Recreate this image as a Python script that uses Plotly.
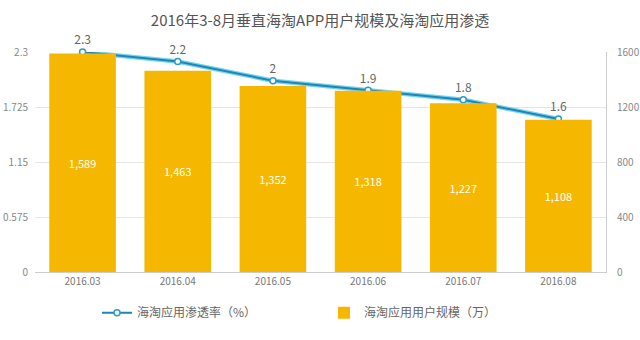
import plotly.graph_objects as go

months = ["2016.03", "2016.04", "2016.05", "2016.06", "2016.07", "2016.08"]
users = [1589, 1463, 1352, 1318, 1227, 1108]
rate = [2.3, 2.2, 2.0, 1.9, 1.8, 1.6]
rate_labels = ["2.3", "2.2", "2", "1.9", "1.8", "1.6"]
left_ticks = [0, 0.575, 1.15, 1.725, 2.3]
right_ticks = [0, 400, 800, 1200, 1600]

font_family = "Noto Sans CJK SC, Roboto, sans-serif"

fig = go.Figure()
fig.add_trace(go.Bar(
    x=months, y=users, name="海淘应用用户规模（万）",
    text=[f"{v:,}" for v in users], textposition="inside", insidetextanchor="middle",
    textfont=dict(size=11, color="white"),
    marker=dict(color="#F6B700", line=dict(width=0)),
    yaxis="y2", legend="legend2",
))
# light glow under the line
fig.add_trace(go.Scatter(
    x=months, y=rate, mode="lines", showlegend=False, hoverinfo="skip",
    line=dict(color="#6fd6f2", width=4.5), yaxis="y",
))
fig.add_trace(go.Scatter(
    x=months, y=rate, name="海淘应用渗透率（%）", mode="lines+markers+text",
    text=rate_labels, textposition="top center", cliponaxis=False,
    textfont=dict(size=12, color="#666"),
    line=dict(color="#2483b3", width=2),
    marker=dict(symbol="circle", size=6, color="white", line=dict(color="#2a9bcc", width=1.5)),
    yaxis="y", legend="legend",
))

leg_common = dict(orientation="h", yref="container", y=0.08, yanchor="middle",
                  xref="container", xanchor="left", bgcolor="rgba(0,0,0,0)",
                  itemwidth=30, font=dict(size=12, color="#666"))

fig.update_layout(
    width=640, height=340,
    margin=dict(l=35, r=34, t=52, b=68, autoexpand=False),
    paper_bgcolor="white", plot_bgcolor="white",
    font=dict(family=font_family, color="#777", size=10),
    title=dict(text="2016年3-8月垂直海淘APP用户规模及海淘应用渗透", x=0.5, xanchor="center",
               y=0.94, yanchor="middle", font=dict(size=15, color="#555")),
    bargap=0.3,
    showlegend=True,
    legend=dict(x=97 / 640, **leg_common),
    legend2=dict(x=324 / 640, **leg_common),
    xaxis=dict(showgrid=False, showline=True, linecolor="#ccc", linewidth=1,
               ticks="", tickfont=dict(size=10, color="#777")),
    yaxis=dict(range=[0, 2.3], tickvals=left_ticks, ticktext=["0", "0.575", "1.15", "1.725", "2.3"],
               showgrid=True, gridcolor="#e6e6e6", zeroline=False, showline=False,
               tickfont=dict(size=10, color="#888"), ticklabelstandoff=6),
    yaxis2=dict(range=[0, 1600], tickvals=right_ticks, overlaying="y", side="right",
                showgrid=False, zeroline=False, showline=True, linecolor="#ccc",
                tickfont=dict(size=10, color="#888"), ticklabelstandoff=8),
)

fig.write_html("out.html")
